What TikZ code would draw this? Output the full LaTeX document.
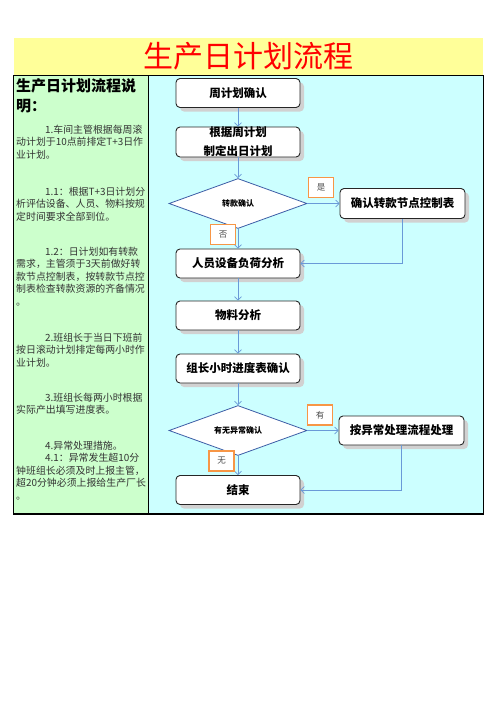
\documentclass[tikz,border=0pt]{standalone}
\usepackage{fontspec}
\setmainfont{Noto Sans CJK SC}
\usetikzlibrary{shapes.geometric,arrows.meta,shadows}
\definecolor{titlebg}{HTML}{FFFF99}
\definecolor{notebg}{HTML}{CCFFCC}
\definecolor{flowbg}{HTML}{CCFFFF}
\definecolor{linkblue}{HTML}{6A9AD8}
\definecolor{diaedge}{HTML}{3C5DA6}
\definecolor{tagedge}{HTML}{F79646}

\begin{document}
\begin{tikzpicture}[x=1pt,y=-1pt,
    stepbox/.style={draw=black!85,line width=0.9pt,fill=white,rounded corners=4pt,minimum width=124pt,minimum height=29pt,inner sep=0pt,align=center,font=\fontsize{11.5}{19}\selectfont\bfseries,drop shadow={shadow xshift=4pt,shadow yshift=-4pt,fill=black!18,opacity=1}},
    check/.style={diamond,draw=diaedge,line width=0.8pt,fill=white,aspect=2.7,minimum width=138pt,minimum height=50pt,inner sep=0pt,font=\fontsize{8}{10}\selectfont\bfseries},
    tag/.style={draw=tagedge,line width=1.2pt,fill=white,minimum width=25pt,minimum height=20pt,inner sep=0pt,font=\fontsize{8.5}{10}\selectfont,text=black!70},
    link/.style={draw=linkblue,line width=0.7pt,-{Straight Barb[length=3.5pt,width=7pt]}},
    note/.style={anchor=north west,align=left,inner sep=0pt,font=\fontsize{9.9}{12.4}\selectfont,text=black!80}]
  \useasboundingbox (0,0) rectangle (496,702);

  \fill[titlebg] (14,38) rectangle (483,75);
  \node[font=\fontsize{30}{30}\selectfont,text=red] (title) at (248,56) {生产日计划流程};
  \fill[notebg] (13.5,75) rectangle (148,514);
  \fill[flowbg] (148,75) rectangle (483,514);
  \draw[line width=0.8pt] (13.5,75) rectangle (483,514);
  \draw[line width=0.8pt] (148,75) -- (148,514);
  \draw[line width=1.6pt] (13,514) -- (483.5,514);

  \node[note,font=\fontsize{15}{20}\selectfont\bfseries,text=black] (head) at (16,78) {生产日计划流程说\\明：};
  \node[note] (p1) at (16,125) {\hspace*{29pt}1.车间主管根据每周滚\\动计划于10点前排定T+3日作\\业计划。};
  \node[note] (p11) at (16,187) {\hspace*{29pt}1.1：根据T+3日计划分\\析评估设备、人员、物料按规\\定时间要求全部到位。};
  \node[note] (p12) at (16,247) {\hspace*{29pt}1.2：日计划如有转款\\需求，主管须于3天前做好转\\款节点控制表，按转款节点控\\制表检查转款资源的齐备情况\\。};
  \node[note] (p2) at (16,333) {\hspace*{29pt}2.班组长于当日下班前\\按日滚动计划排定每两小时作\\业计划。};
  \node[note] (p3) at (16,393) {\hspace*{29pt}3.班组长每两小时根据\\实际产出填写进度表。};
  \node[note] (p4) at (16,441) {\hspace*{29pt}4.异常处理措施。\\\hspace*{29pt}4.1：异常发生超10分\\钟班组长必须及时上报主管，\\超20分钟必须上报给生产厂长\\。};

  \node[stepbox] (weekly) at (238,93) {周计划确认};
  \node[stepbox,minimum height=30pt] (daily) at (238,142) {根据周计划\\制定出日计划};
  \node[check] (swap) at (238,203.5) {转款确认};
  \node[stepbox,minimum width=125pt,minimum height=30pt] (swaptable) at (402.5,203.5) {确认转款节点控制表};
  \node[stepbox] (load) at (238,263.5) {人员设备负荷分析};
  \node[stepbox] (material) at (238,315.5) {物料分析};
  \node[stepbox] (hourly) at (238,368.5) {组长小时进度表确认};
  \node[check] (abnormal) at (238,430.5) {有无异常确认};
  \node[stepbox,minimum width=125pt] (handle) at (401.5,430.5) {按异常处理流程处理};
  \node[stepbox] (finish) at (238,490) {结束};

  \draw[link] (weekly) -- (daily);
  \draw[link] (daily) -- (swap);
  \draw[link] (swap) -- (swaptable);
  \draw[link] (swap) -- (load);
  \draw[link] (swaptable.south) |- (load.east);
  \draw[link] (load) -- (material);
  \draw[link] (material) -- (hourly);
  \draw[link] (hourly) -- (abnormal);
  \draw[link] (abnormal) -- (handle);
  \draw[link] (abnormal) -- (finish);
  \draw[link] (handle.south) |- (finish.east);

  \node[tag] (yes1) at (321,187.5) {是};
  \node[tag] (no1) at (223,234.5) {否};
  \node[tag] (yes2) at (320,415) {有};
  \node[tag] (no2) at (221.5,461) {无};
\end{tikzpicture}
\end{document}
